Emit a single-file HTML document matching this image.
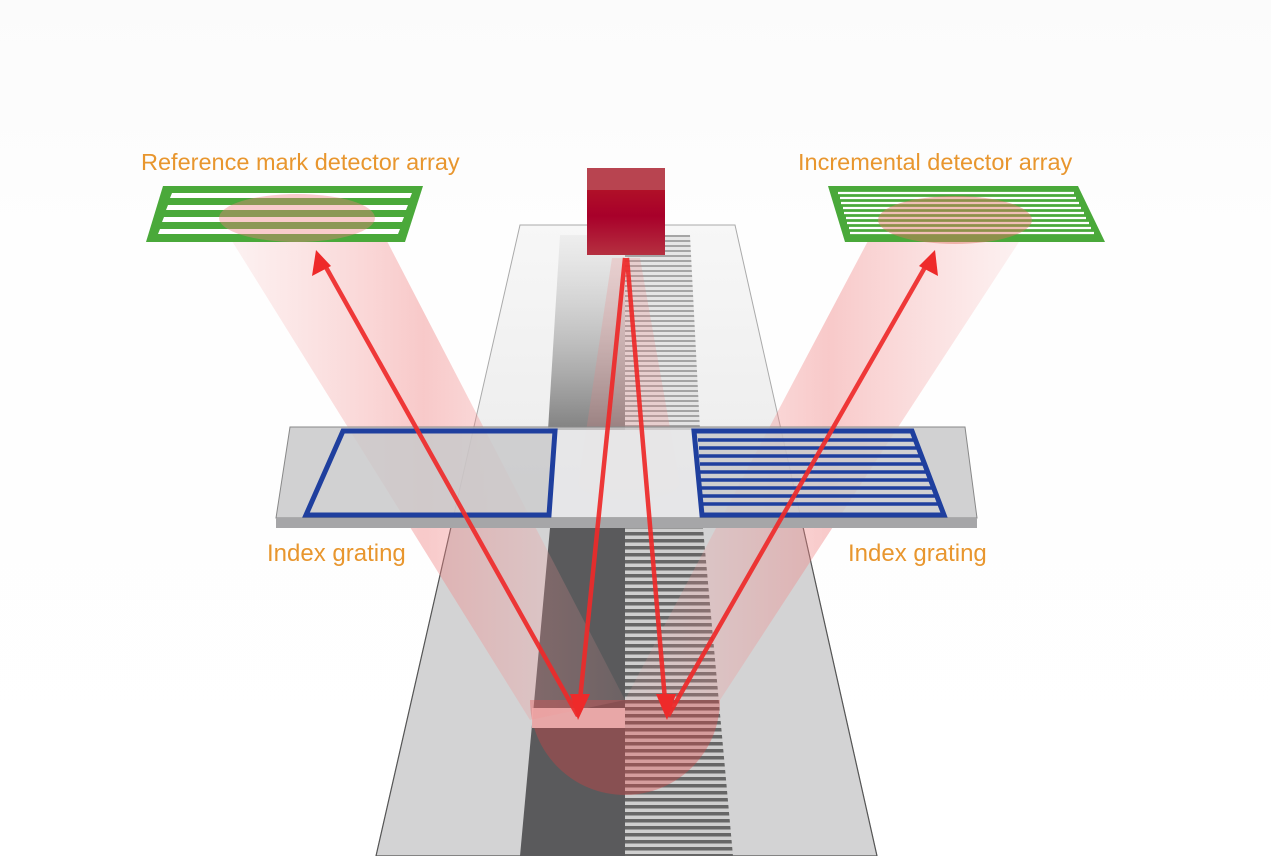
<!DOCTYPE html>
<html><head><meta charset="utf-8"><style>
html,body{margin:0;padding:0;background:#fff;}
svg{display:block}
text{font-family:"Liberation Sans",sans-serif;fill:#e8962e;font-size:23.5px}
</style></head><body>
<svg width="1271" height="856" viewBox="0 0 1271 856" xmlns="http://www.w3.org/2000/svg">
<defs>
<linearGradient id="bg" x1="0" y1="0" x2="0" y2="1"><stop offset="0" stop-color="#fbfbfb"/><stop offset="0.3" stop-color="#fefefe"/><stop offset="1" stop-color="#fff"/></linearGradient>
<linearGradient id="scaleTop" x1="0" y1="0" x2="0" y2="1"><stop offset="0" stop-color="#f7f7f7"/><stop offset="1" stop-color="#dcdcdc"/></linearGradient>
<linearGradient id="darkTop" x1="0" y1="0" x2="0" y2="1"><stop offset="0" stop-color="#bbb" stop-opacity="0.15"/><stop offset="1" stop-color="#666" stop-opacity="0.8"/></linearGradient>
<linearGradient id="cubeF" x1="0" y1="0" x2="0" y2="1"><stop offset="0" stop-color="#b01028"/><stop offset="0.4" stop-color="#a8002a"/><stop offset="1" stop-color="#b53040"/></linearGradient>
<linearGradient id="beamL" x1="0" y1="0" x2="1" y2="0"><stop offset="0" stop-color="#f4a0a0" stop-opacity="0.12"/><stop offset="0.5" stop-color="#f08080" stop-opacity="0.42"/><stop offset="1" stop-color="#f4a0a0" stop-opacity="0.12"/></linearGradient>
<pattern id="stripes" width="10" height="7" patternUnits="userSpaceOnUse"><rect width="10" height="7" fill="#cfcfcf"/><rect width="10" height="3.5" fill="#666"/></pattern>
<pattern id="stripesTop" width="10" height="5" patternUnits="userSpaceOnUse"><rect width="10" height="5" fill="#e0e0e0"/><rect width="10" height="2" fill="#8a8a8a"/></pattern>
</defs>
<rect width="1271" height="856" fill="url(#bg)"/>
<polygon points="520,225 735,225 877,856 376,856" fill="url(#scaleTop)" stroke="#aaa" stroke-width="1"/>
<polygon points="451,527 803,527 877,856 376,856" fill="#d3d3d4" stroke="#555" stroke-width="1.2"/>
<polygon points="560,235 625,235 625,430 548,430" fill="url(#darkTop)"/>
<polygon points="625,235 690,235 700,430 625,430" fill="url(#stripesTop)" opacity="0.75"/>
<polygon points="550,528 625,528 625,856 520,856" fill="#5a5a5c"/>
<polygon points="625,528 703,528 733,856 625,856" fill="url(#stripes)"/>
<path d="M530,700 A95,95 0 0 0 720,700 Z" fill="#e04040" opacity="0.35"/>
<rect x="532" y="708" width="93" height="20" fill="#f3b0b0" opacity="0.9"/>
<polygon points="222,225 375,218 625,700 530,720" fill="url(#beamL)"/>
<polygon points="878,222 1032,222 720,700 625,700" fill="url(#beamL)"/>
<polygon points="612,258 640,258 680,485 578,485" fill="#f08080" opacity="0.22"/>
<ellipse cx="629" cy="483" rx="51" ry="17" fill="#f08080" opacity="0.25"/>
<polygon points="290,427 965,427 977,518 276,518" fill="#c9c9ca" fill-opacity="0.85" stroke="#888" stroke-width="1"/>
<polygon points="276,518 977,518 977,528 276,528" fill="#a6a6a8"/>
<polygon points="557,430 692,430 700,517 550,517" fill="#e9e9ea" opacity="0.9"/>
<polygon points="343,431 555,431 549,515 306,515" fill="none" stroke="#1f3f9e" stroke-width="5"/>
<polygon points="694,431 912,431 944,515 702,515" fill="none" stroke="#1f3f9e" stroke-width="5"/>
<g stroke="#1f3f9e" stroke-width="3.5">
<line x1="698" y1="440" x2="915" y2="440"/><line x1="699" y1="448" x2="918" y2="448"/>
<line x1="699" y1="456" x2="921" y2="456"/><line x1="700" y1="464" x2="924" y2="464"/>
<line x1="700" y1="472" x2="927" y2="472"/><line x1="701" y1="480" x2="930" y2="480"/>
<line x1="701" y1="488" x2="933" y2="488"/><line x1="702" y1="496" x2="936" y2="496"/>
<line x1="702" y1="504" x2="939" y2="504"/>
</g>
<polygon points="163,186 423,186 405,242 146,242" fill="#4aa93a"/>
<g fill="#fff"><polygon points="172,193 412,193 410,198 170,198"/><polygon points="168,205 408,205 406,210 166,210"/><polygon points="164,217 404,217 402,222 162,222"/><polygon points="160,229 400,229 398,234 158,234"/></g>
<polygon points="828,186 1078,186 1105,242 845,242" fill="#4aa93a"/>
<g stroke="#fff" stroke-width="2.2">
<line x1="838" y1="193" x2="1074" y2="193"/><line x1="840" y1="198" x2="1076" y2="198"/><line x1="841" y1="203" x2="1079" y2="203"/><line x1="843" y1="208" x2="1081" y2="208"/><line x1="844" y1="213" x2="1084" y2="213"/><line x1="846" y1="218" x2="1086" y2="218"/><line x1="847" y1="223" x2="1089" y2="223"/><line x1="849" y1="228" x2="1091" y2="228"/><line x1="850" y1="233" x2="1094" y2="233"/>
</g>
<ellipse cx="297" cy="218" rx="78" ry="24" fill="#f08080" opacity="0.4"/>
<ellipse cx="955" cy="220" rx="77" ry="24" fill="#e07060" opacity="0.45"/>
<polygon points="587,168 665,168 665,190 587,190" fill="#b84450"/>
<rect x="587" y="190" width="78" height="65" fill="url(#cubeF)"/>
<g stroke="#ee2a2a" stroke-width="4.5" fill="none" opacity="0.92">
<line x1="625" y1="258" x2="580" y2="700"/>
<line x1="627" y1="258" x2="665" y2="700"/>
<line x1="578" y1="716" x2="323" y2="262"/>
<line x1="668" y1="716" x2="928" y2="262"/>
</g>
<g fill="#ee2a2a">
<polygon points="570,694 590,694 578,720"/>
<polygon points="656,694 676,694 667,720"/>
<polygon points="316,250 312,276 331,266"/>
<polygon points="935,250 919,266 938,276"/>
</g>
<text x="141" y="170">Reference mark detector array</text>
<text x="798" y="170">Incremental detector array</text>
<text x="267" y="561" style="font-size:24px">Index grating</text>
<text x="848" y="561" style="font-size:24px">Index grating</text>
</svg>
</body></html>
